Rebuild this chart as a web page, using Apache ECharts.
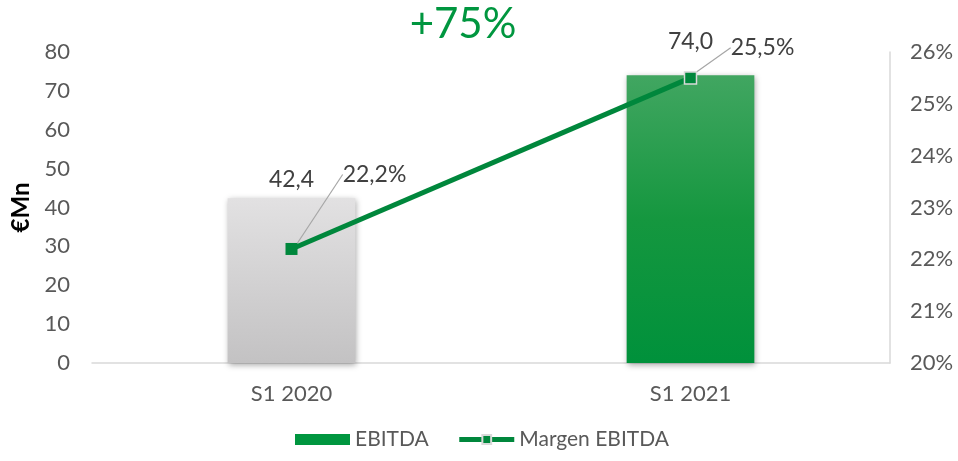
<!DOCTYPE html>
<html>
<head>
<meta charset="utf-8">
<script src="https://cdn.jsdelivr.net/npm/echarts@6/dist/echarts.min.js"></script>
<style>
  html, body { margin: 0; padding: 0; background: #fff; }
  #chart { width: 958px; height: 461px; }
</style>
</head>
<body>
<div id="chart"></div>
<script>
// datos
var categories = ["S1 2020", "S1 2021"];
var ebitda = [42.4, 74.0];
var margen = [22.2, 25.5];
var growthText = "+75%";

var fmt = function (v) { return v.toFixed(1).replace(".", ","); };
var font = "Lato, sans-serif";

var barColors = [
  new echarts.graphic.LinearGradient(0, 0, 0, 1, [
    { offset: 0, color: "#e2e1e2" },
    { offset: 1, color: "#c3c2c3" }
  ]),
  new echarts.graphic.LinearGradient(0, 0, 0, 1, [
    { offset: 0, color: "#41a661" },
    { offset: 0.5, color: "#15973f" },
    { offset: 1, color: "#00913b" }
  ])
];
var barLabelDist = [7, 22];
var lineLabelShift = [[83, -52], [72, -7]];

var dom = document.getElementById("chart");
var chart = echarts.init(dom);

var option = {
  animation: false,
  title: {
    text: growthText,
    left: 458,
    top: -2,
    textAlign: "center",
    textStyle: { color: "#00963f", fontSize: 42, fontWeight: "normal", fontFamily: font }
  },
  legend: {
    bottom: 6,
    left: 290,
    itemGap: 28,
    itemWidth: 55,
    itemHeight: 11,
    textStyle: { color: "#595959", fontSize: 21, fontFamily: font },
    data: [
      { name: "EBITDA", icon: "rect", itemStyle: { color: "#00963f" } },
      { name: "Margen EBITDA", lineStyle: { width: 5 } }
    ]
  },
  grid: { left: 92, right: 68, top: 52, bottom: 98 },
  xAxis: {
    type: "category",
    data: categories,
    axisTick: { show: false },
    axisLine: { lineStyle: { color: "#d9d9d9", width: 1.5 } },
    axisLabel: { color: "#595959", fontSize: 22, fontFamily: font, margin: 20 }
  },
  yAxis: [
    {
      type: "value",
      min: 0, max: 80, interval: 10,
      name: "€Mn",
      nameLocation: "middle",
      nameGap: 57,
      nameTextStyle: { color: "#000", fontSize: 24, fontWeight: "bold", fontFamily: font },
      splitLine: { show: false },
      axisLine: { show: false },
      axisLabel: { color: "#595959", fontSize: 22, fontFamily: font, margin: 22 }
    },
    {
      type: "value",
      min: 20, max: 26, interval: 1,
      splitLine: { show: false },
      axisLine: { show: true, lineStyle: { color: "#d9d9d9", width: 1.5 } },
      axisLabel: { color: "#595959", fontSize: 22, fontFamily: font, margin: 20, formatter: "{value}%" }
    }
  ],
  series: [
    {
      name: "EBITDA",
      type: "bar",
      barWidth: "32%",
      data: ebitda.map(function (v, i) {
        return {
          value: v,
          itemStyle: { color: barColors[i] },
          label: { distance: barLabelDist[i] }
        };
      }),
      itemStyle: { shadowBlur: 6, shadowColor: "rgba(0,0,0,0.35)", shadowOffsetX: 1, shadowOffsetY: 2 },
      label: {
        show: true,
        position: "top",
        color: "#404040",
        fontSize: 23,
        fontFamily: font,
        formatter: function (p) { return fmt(p.value); }
      }
    },
    {
      name: "Margen EBITDA",
      type: "line",
      yAxisIndex: 1,
      data: margen.map(function (v, i) {
        return { value: v, itemStyle: { borderWidth: i === 0 ? 0 : 1.5 } };
      }),
      symbol: "rect",
      symbolSize: 12,
      lineStyle: { color: "#00873c", width: 5 },
      itemStyle: { color: "#00873c", borderColor: "#d9d9d9", borderWidth: 1.5 },
      label: {
        show: true,
        position: "top",
        color: "#404040",
        fontSize: 23,
        fontFamily: font,
        formatter: function (p) { return fmt(p.value) + "%"; }
      },
      labelLine: { show: true, lineStyle: { color: "#a6a6a6", width: 1.2 } },
      labelLayout: function (p) {
        return { dx: lineLabelShift[p.dataIndex][0], dy: lineLabelShift[p.dataIndex][1] };
      },
      z: 5
    }
  ]
};

chart.setOption(option);
window.onresize = function () { chart.resize(); };
</script>
</body>
</html>
